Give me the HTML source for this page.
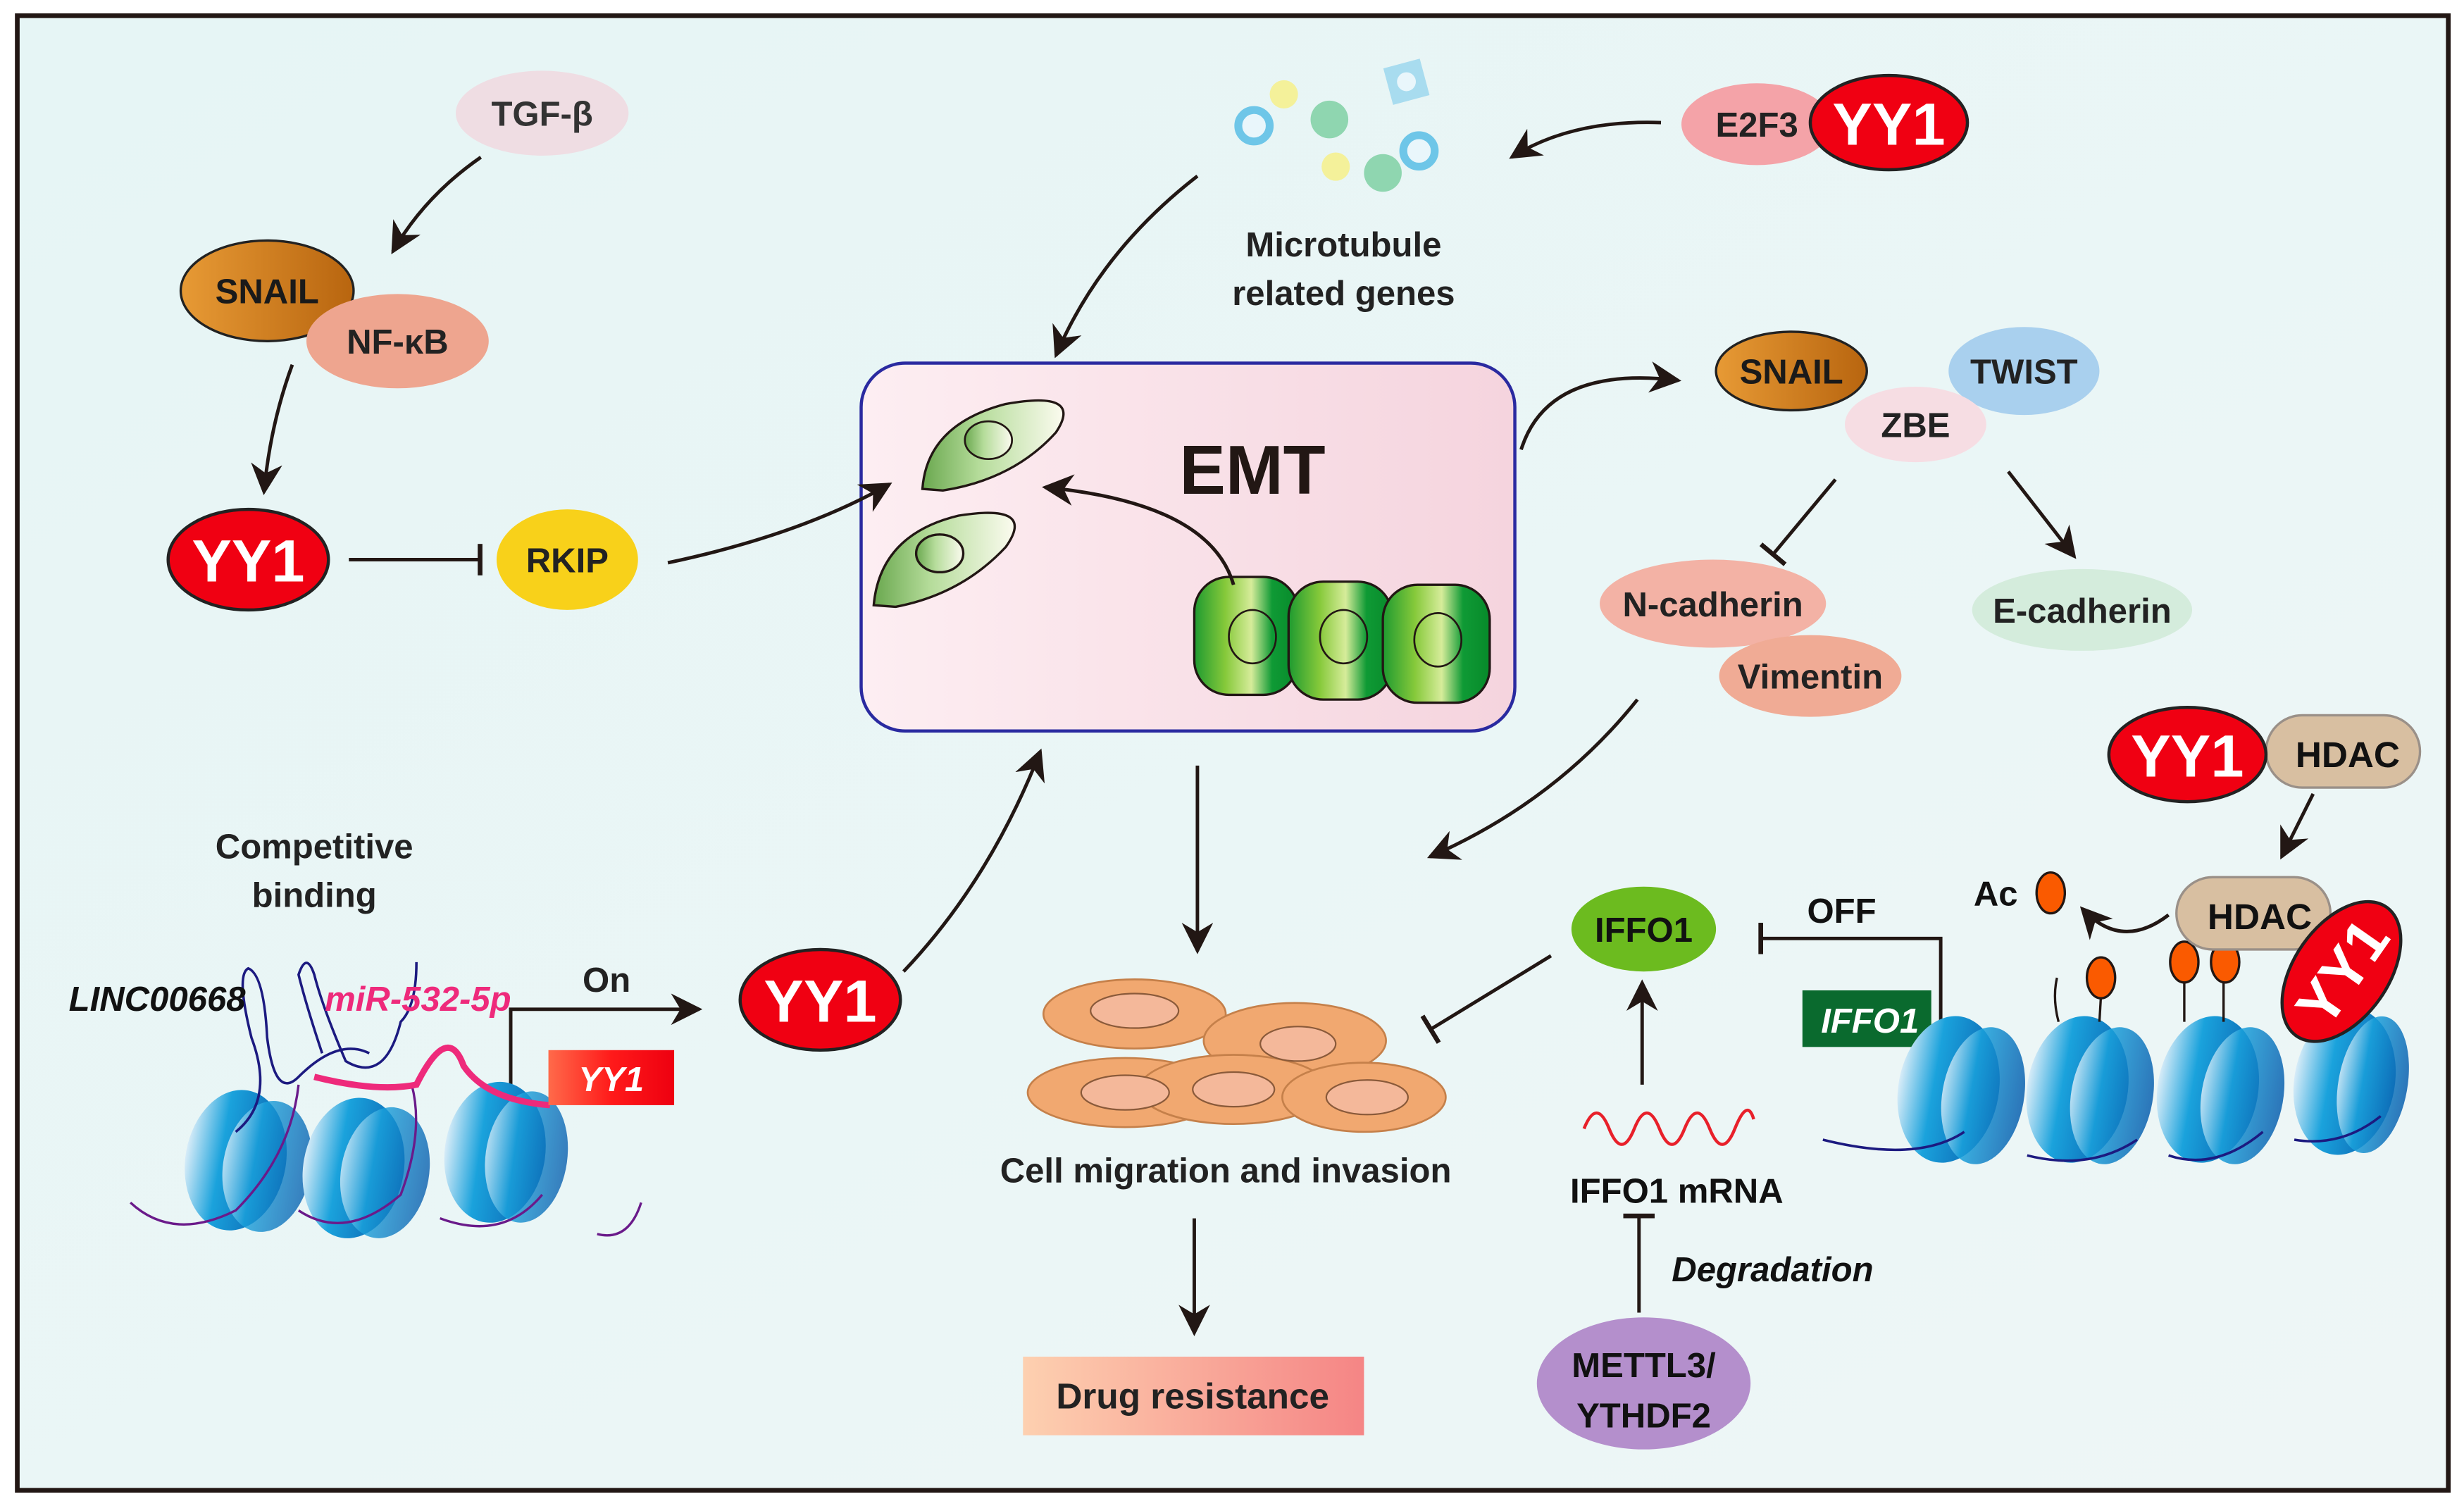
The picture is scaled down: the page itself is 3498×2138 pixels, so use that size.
<!DOCTYPE html>
<html><head><meta charset="utf-8"><style>
html,body{margin:0;padding:0;background:#fff}
svg{display:block}
text{font-family:"Liberation Sans",Arial,sans-serif;font-weight:bold}
</style></head><body>
<svg width="3498" height="2138" viewBox="0 0 1568 958" preserveAspectRatio="none" xmlns="http://www.w3.org/2000/svg">
<defs>
<linearGradient id="bg" x1="0" y1="0" x2="1" y2="1"><stop offset="0" stop-color="#e6f5f5"/><stop offset="1" stop-color="#eef6f6"/></linearGradient>
<linearGradient id="emt" x1="0" x2="1"><stop offset="0" stop-color="#fdeef2"/><stop offset="1" stop-color="#f5d4de"/></linearGradient>
<linearGradient id="snail" x1="0" x2="1"><stop offset="0" stop-color="#e79a35"/><stop offset="1" stop-color="#b8650f"/></linearGradient>
<linearGradient id="mes" x1="0" x2="1"><stop offset="0" stop-color="#6aa84f"/><stop offset="0.4" stop-color="#b5dc9a"/><stop offset="1" stop-color="#fbfbef"/></linearGradient>
<linearGradient id="epi" x1="0" x2="1"><stop offset="0" stop-color="#1e9a30"/><stop offset="0.3" stop-color="#86c93a"/><stop offset="0.55" stop-color="#d6ec9a"/><stop offset="0.75" stop-color="#0f9a35"/><stop offset="1" stop-color="#078a2a"/></linearGradient>
<linearGradient id="nuc" x1="0" x2="1"><stop offset="0" stop-color="#d8ecf8"/><stop offset="0.35" stop-color="#1aa2dc"/><stop offset="1" stop-color="#0a5fae"/></linearGradient>
<linearGradient id="drug" x1="0" x2="1"><stop offset="0" stop-color="#fdd0b0"/><stop offset="1" stop-color="#f58585"/></linearGradient>
<linearGradient id="yy1r" x1="0" x2="1"><stop offset="0" stop-color="#ff6a4a"/><stop offset="0.5" stop-color="#ff1a1a"/><stop offset="1" stop-color="#ee0010"/></linearGradient>
<marker id="a" viewBox="0 0 10 10" refX="9" refY="5" markerWidth="20" markerHeight="20" orient="auto" markerUnits="userSpaceOnUse"><path d="M0,0 L10,5 L0,10 L3,5z" fill="#221714"/></marker>
<marker id="t" viewBox="0 0 4 20" refX="2" refY="10" markerWidth="4" markerHeight="20" orient="auto" markerUnits="userSpaceOnUse"><rect x="0" y="0" width="3" height="20" fill="#221714"/></marker>
</defs>
<rect x="11" y="10" width="1547" height="938" fill="url(#bg)" stroke="#221714" stroke-width="3"/>

<g fill="none" stroke="#221714" stroke-width="2.2">
<path d="M306,100 Q270,125 250,160" marker-end="url(#a)"/>
<path d="M186,232 Q172,270 168,313" marker-end="url(#a)"/>
<path d="M222,356 L306,356" marker-end="url(#t)"/>
<path d="M762,112 Q700,160 672,226" marker-end="url(#a)"/>
<path d="M1057,78 Q1000,76 962,100" marker-end="url(#a)"/>
<path d="M968,286 Q985,232 1068,242" marker-end="url(#a)"/>
<path d="M1168,305 L1128,353" marker-end="url(#t)"/>
<path d="M1278,300 L1320,354" marker-end="url(#a)"/>
<path d="M1042,445 Q990,510 910,545" marker-end="url(#a)"/>
<path d="M762,487 L762,605" marker-end="url(#a)"/>
<path d="M760,775 L760,848" marker-end="url(#a)"/>
<path d="M325,690 L325,642 L445,642" marker-end="url(#a)"/>
<path d="M575,618 Q630,560 662,478" marker-end="url(#a)"/>
<path d="M987,608 L910,655" marker-end="url(#t)"/>
<path d="M1235,650 L1235,597 L1120,597" marker-end="url(#t)"/>
<path d="M1045,690 L1045,625" marker-end="url(#a)"/>
<path d="M1043,835 L1043,773" marker-end="url(#t)"/>
<path d="M1472,505 L1452,545" marker-end="url(#a)"/>
<path d="M1380,582 Q1350,605 1325,578" marker-end="url(#a)"/>
</g>

<!-- top left -->
<ellipse cx="345" cy="72" rx="55" ry="27" fill="#efdde3"/>
<text x="345" y="80" font-size="22" text-anchor="middle" fill="#333">TGF-β</text>
<ellipse cx="170" cy="185" rx="55" ry="32" fill="url(#snail)" stroke="#222" stroke-width="1.5"/>
<text x="170" y="193" font-size="22" text-anchor="middle" fill="#1a1a1a">SNAIL</text>
<ellipse cx="253" cy="217" rx="58" ry="30" fill="#eea58f"/>
<text x="253" y="225" font-size="22" text-anchor="middle" fill="#222">NF-κB</text>
<ellipse cx="158" cy="356" rx="51" ry="32" fill="#f00012" stroke="#222" stroke-width="2"/>
<text x="158" y="370" font-size="38" text-anchor="middle" fill="#fff">YY1</text>
<ellipse cx="361" cy="356" rx="45" ry="32" fill="#f8d11a"/>
<text x="361" y="364" font-size="22" text-anchor="middle" fill="#222">RKIP</text>

<!-- EMT box -->
<rect x="548" y="231" width="416" height="234" rx="28" fill="url(#emt)" stroke="#2a2aa0" stroke-width="2"/>
<text x="797" y="314" font-size="44" text-anchor="middle" fill="#221714">EMT</text>
<path d="M587,311 Q590,270 640,257 Q690,248 672,275 Q645,305 600,312 Z" fill="url(#mes)" stroke="#221714" stroke-width="1.5"/>
<ellipse cx="629" cy="280" rx="15" ry="12" fill="url(#mes)" stroke="#221714" stroke-width="1.2"/>
<path d="M556,385 Q560,340 610,328 Q660,320 640,348 Q612,378 570,386 Z" fill="url(#mes)" stroke="#221714" stroke-width="1.5"/>
<ellipse cx="598" cy="352" rx="15" ry="12" fill="url(#mes)" stroke="#221714" stroke-width="1.5"/>
<rect x="760" y="367" width="66" height="75" rx="22" fill="url(#epi)" stroke="#221714" stroke-width="1.5"/>
<rect x="820" y="370" width="66" height="75" rx="22" fill="url(#epi)" stroke="#221714" stroke-width="1.5"/>
<rect x="880" y="372" width="68" height="75" rx="22" fill="url(#epi)" stroke="#221714" stroke-width="1.5"/>
<ellipse cx="797" cy="405" rx="15" ry="17" fill="none" stroke="#221714" stroke-width="1.2"/>
<ellipse cx="855" cy="405" rx="15" ry="17" fill="none" stroke="#221714" stroke-width="1.2"/>
<ellipse cx="915" cy="407" rx="15" ry="17" fill="none" stroke="#221714" stroke-width="1.2"/>
<g fill="none" stroke="#221714" stroke-width="2.2">
<path d="M425,358 Q510,340 566,308" marker-end="url(#a)"/>
<path d="M785,372 Q770,320 665,310" marker-end="url(#a)"/>
</g>

<!-- microtubule -->
<circle cx="798" cy="80" r="10" fill="#e9f6fb" stroke="#6ec6e8" stroke-width="5"/>
<circle cx="817" cy="60" r="9" fill="#f4f19a"/>
<circle cx="846" cy="76" r="12" fill="#8fd6b0"/>
<rect x="883" y="40" width="24" height="24" fill="#a8dcef" transform="rotate(-15 895 52)"/>
<circle cx="895" cy="52" r="6" fill="#e9f6fb"/>
<circle cx="850" cy="106" r="9" fill="#f4f19a"/>
<circle cx="880" cy="110" r="12" fill="#8fd6b0"/>
<circle cx="903" cy="96" r="10" fill="#e9f6fb" stroke="#6ec6e8" stroke-width="5"/>
<text x="855" y="163" font-size="22" text-anchor="middle" fill="#222">Microtubule</text>
<text x="855" y="194" font-size="22" text-anchor="middle" fill="#222">related genes</text>
<ellipse cx="1118" cy="79" rx="48" ry="26" fill="#f4a3a8"/>
<text x="1118" y="87" font-size="22" text-anchor="middle" fill="#222">E2F3</text>
<ellipse cx="1202" cy="78" rx="50" ry="30" fill="#f00012" stroke="#222" stroke-width="2"/>
<text x="1202" y="92" font-size="38" text-anchor="middle" fill="#fff">YY1</text>

<!-- transcription factors -->
<ellipse cx="1288" cy="236" rx="48" ry="28" fill="#a9d0ee"/>
<text x="1288" y="244" font-size="22" text-anchor="middle" fill="#222">TWIST</text>
<ellipse cx="1140" cy="236" rx="48" ry="25" fill="url(#snail)" stroke="#222" stroke-width="1.5"/>
<text x="1140" y="244" font-size="22" text-anchor="middle" fill="#1a1a1a">SNAIL</text>
<ellipse cx="1219" cy="270" rx="45" ry="24" fill="#f6dde3"/>
<text x="1219" y="278" font-size="22" text-anchor="middle" fill="#222">ZBE</text>
<ellipse cx="1090" cy="384" rx="72" ry="28" fill="#f3b2a5"/>
<text x="1090" y="392" font-size="22" text-anchor="middle" fill="#222">N-cadherin</text>
<ellipse cx="1152" cy="430" rx="58" ry="26" fill="#f0ab95"/>
<text x="1152" y="438" font-size="22" text-anchor="middle" fill="#222">Vimentin</text>
<ellipse cx="1325" cy="388" rx="70" ry="26" fill="#d4ecdc"/>
<text x="1325" y="396" font-size="22" text-anchor="middle" fill="#222">E-cadherin</text>

<!-- migration cells -->
<g fill="#f1a870" stroke="#c5804a" stroke-width="1.2">
<ellipse cx="722" cy="645" rx="58" ry="22"/>
<ellipse cx="824" cy="662" rx="58" ry="24"/>
<ellipse cx="716" cy="695" rx="62" ry="22"/>
<ellipse cx="785" cy="693" rx="60" ry="22"/>
<ellipse cx="868" cy="698" rx="52" ry="22"/>
</g>
<g fill="#f4b89a" stroke="#8a5a3a" stroke-width="1">
<ellipse cx="722" cy="643" rx="28" ry="11"/>
<ellipse cx="826" cy="664" rx="24" ry="11"/>
<ellipse cx="716" cy="695" rx="28" ry="11"/>
<ellipse cx="785" cy="693" rx="26" ry="11"/>
<ellipse cx="870" cy="698" rx="26" ry="11"/>
</g>
<text x="780" y="752" font-size="22" text-anchor="middle" fill="#222">Cell migration and invasion</text>
<rect x="651" y="863" width="217" height="50" fill="url(#drug)"/>
<text x="759" y="896" font-size="23" text-anchor="middle" fill="#222">Drug resistance</text>

<!-- left bottom -->
<text x="200" y="546" font-size="22" text-anchor="middle" fill="#222">Competitive</text>
<text x="200" y="577" font-size="22" text-anchor="middle" fill="#222">binding</text>
<g fill="url(#nuc)">
<ellipse cx="150" cy="738" rx="32" ry="45" transform="rotate(10 150 738)"/>
<ellipse cx="170" cy="742" rx="28" ry="42" transform="rotate(10 170 742)" opacity="0.8"/>
<ellipse cx="225" cy="743" rx="32" ry="45" transform="rotate(10 225 743)"/>
<ellipse cx="245" cy="746" rx="28" ry="42" transform="rotate(10 245 746)" opacity="0.8"/>
<ellipse cx="315" cy="733" rx="32" ry="45" transform="rotate(8 315 733)"/>
<ellipse cx="335" cy="736" rx="26" ry="42" transform="rotate(8 335 736)" opacity="0.8"/>
</g>
<g fill="none" stroke="#6a1a8a" stroke-width="1.5">
<path d="M83,765 Q110,790 150,770 Q185,735 190,690"/>
<path d="M190,770 Q220,790 255,760 Q270,720 262,690"/>
<path d="M280,775 Q320,790 345,760"/>
<path d="M380,785 Q400,790 408,765"/>
</g>
<path d="M150,720 Q175,700 160,660 Q150,620 158,616 Q168,620 170,660 Q175,700 190,685 Q215,660 235,670" fill="none" stroke="#1c1a80" stroke-width="1.6"/>
<path d="M205,670 Q195,640 190,620 Q195,605 200,620 Q205,640 220,675 Q245,690 255,650 Q265,640 265,612" fill="none" stroke="#1c1a80" stroke-width="1.6"/>
<path d="M200,685 Q240,695 265,690 Q285,650 295,678 Q310,700 350,703" fill="none" stroke="#ee2a7b" stroke-width="4"/>
<text x="100" y="643" font-size="22" font-style="italic" text-anchor="middle" fill="#111">LINC00668</text>
<text x="266" y="643" font-size="22" font-style="italic" text-anchor="middle" fill="#ee2a7b">miR-532-5p</text>
<text x="386" y="631" font-size="22" text-anchor="middle" fill="#222">On</text>
<rect x="349" y="668" width="80" height="35" fill="url(#yy1r)"/>
<text x="389" y="694" font-size="22" font-style="italic" text-anchor="middle" fill="#fff" font-weight="normal">YY1</text>
<ellipse cx="522" cy="636" rx="51" ry="32" fill="#f00012" stroke="#222" stroke-width="2"/>
<text x="522" y="650" font-size="38" text-anchor="middle" fill="#fff">YY1</text>

<!-- IFFO1 -->
<ellipse cx="1046" cy="591" rx="46" ry="27" fill="#6cbb1f"/>
<text x="1046" y="599" font-size="22" text-anchor="middle" fill="#111">IFFO1</text>
<text x="1172" y="587" font-size="22" text-anchor="middle" fill="#111">OFF</text>
<path d="M1008,718 q8,-20 16,0 t16,0 t16,0 t16,0 t16,0 t16,0 t12,-6" fill="none" stroke="#e8202a" stroke-width="2"/>
<text x="1067" y="765" font-size="22" text-anchor="middle" fill="#111">IFFO1 mRNA</text>
<text x="1128" y="815" font-size="22" font-style="italic" text-anchor="middle" fill="#111">Degradation</text>
<ellipse cx="1046" cy="880" rx="68" ry="42" fill="#b48fcc"/>
<text x="1046" y="876" font-size="22" text-anchor="middle" fill="#111">METTL3/</text>
<text x="1046" y="908" font-size="22" text-anchor="middle" fill="#111">YTHDF2</text>
<rect x="1147" y="630" width="82" height="36" fill="#0a6a2e"/>
<text x="1190" y="657" font-size="22" font-style="italic" text-anchor="middle" fill="#fff" font-weight="normal">IFFO1</text>

<!-- right nucleosomes -->
<g fill="url(#nuc)">
<ellipse cx="1240" cy="693" rx="32" ry="47" transform="rotate(10 1240 693)"/>
<ellipse cx="1262" cy="697" rx="26" ry="44" transform="rotate(10 1262 697)" opacity="0.85"/>
<ellipse cx="1322" cy="693" rx="32" ry="47" transform="rotate(10 1322 693)"/>
<ellipse cx="1344" cy="697" rx="26" ry="44" transform="rotate(10 1344 697)" opacity="0.85"/>
<ellipse cx="1405" cy="693" rx="32" ry="47" transform="rotate(10 1405 693)"/>
<ellipse cx="1427" cy="697" rx="26" ry="44" transform="rotate(10 1427 697)" opacity="0.85"/>
<ellipse cx="1492" cy="688" rx="32" ry="47" transform="rotate(10 1492 688)"/>
<ellipse cx="1510" cy="690" rx="22" ry="44" transform="rotate(10 1510 690)" opacity="0.85"/>
</g>
<path d="M1160,725 Q1220,740 1250,720 M1290,735 Q1330,745 1360,725 M1380,735 Q1410,745 1440,720 M1460,725 Q1490,730 1515,710" fill="none" stroke="#1c1a80" stroke-width="1.6"/>
<g stroke="#221714" stroke-width="1.5" fill="none">
<path d="M1310,650 Q1306,635 1309,622"/>
<path d="M1336,650 L1337,633"/>
<path d="M1390,650 L1390,622"/>
<path d="M1415,650 L1415,622"/>
</g>
<g fill="#fa5a00" stroke="#221714" stroke-width="1.5">
<ellipse cx="1337" cy="622" rx="9" ry="13"/>
<ellipse cx="1390" cy="612" rx="9" ry="13"/>
<ellipse cx="1416" cy="612" rx="9" ry="13"/>
<ellipse cx="1305" cy="568" rx="9" ry="13"/>
</g>
<text x="1270" y="576" font-size="22" text-anchor="middle" fill="#111">Ac</text>
<rect x="1385" y="558" width="98" height="46" rx="23" fill="#d8bfa1" stroke="#9a9088" stroke-width="1.5"/>
<text x="1438" y="591" font-size="23" text-anchor="middle" fill="#111">HDAC</text>
<g transform="rotate(-55 1490 618)">
<ellipse cx="1490" cy="618" rx="50" ry="30" fill="#f00012" stroke="#222" stroke-width="2"/>
<text x="1490" y="632" font-size="38" text-anchor="middle" fill="#fff">YY1</text>
</g>
<rect x="1442" y="455" width="98" height="46" rx="23" fill="#d8bfa1" stroke="#9a9088" stroke-width="1.5"/>
<text x="1494" y="488" font-size="23" text-anchor="middle" fill="#111">HDAC</text>
<ellipse cx="1392" cy="480" rx="50" ry="30" fill="#f00012" stroke="#222" stroke-width="2"/>
<text x="1392" y="494" font-size="38" text-anchor="middle" fill="#fff">YY1</text>
</svg>
</body></html>
